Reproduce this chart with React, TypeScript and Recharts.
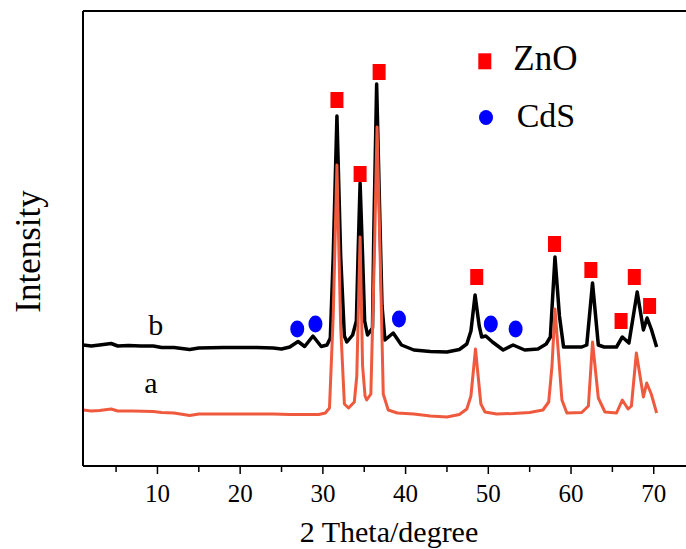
import React from 'react';
import {
  ComposedChart,
  Line,
  Scatter,
  XAxis,
  YAxis,
  ReferenceLine,
  ReferenceDot,
  Legend
} from 'recharts';

// sample b (CdS/ZnO) – drawn on top offset
const thetaB = [
  1.0, 2.0, 3.0, 4.4, 5.2, 6.5, 8.0, 9.5, 10.5, 12.0, 13.9, 15.0, 18.0, 22.0, 24.0, 25.0,
  26.0, 27.0, 27.8, 28.8, 29.8, 30.5, 30.9, 31.25, 31.7, 32.15, 32.6, 32.9, 33.6, 34.05,
  34.25, 34.5, 34.8, 35.05, 35.4, 36.0, 36.15, 36.5, 36.85, 37.15, 37.5, 38.5, 39.5, 41.0,
  43.0, 45.0, 46.5, 47.4, 47.9, 48.4, 48.9, 49.2, 49.7, 50.5, 51.8, 53.0, 54.4, 56.0,
  57.0, 57.5, 58.06, 58.6, 59.1, 61.3, 61.9, 62.6, 63.3, 64.0, 65.5, 66.2, 67.0, 68.0,
  68.75, 69.2, 69.7, 70.35
];
const intensityB = [
  121, 120, 121, 122.5, 120, 120.5, 120, 120, 118.5, 118.5, 116.5, 118, 118.5, 118.5, 118, 117,
  119, 124.5, 119.5, 130, 119.5, 121, 128, 210, 350, 210, 130, 124, 131, 145,
  210, 283, 210, 145, 131, 138, 230, 382, 260, 160, 126, 133, 121, 116,
  114.5, 114, 116.5, 122, 135, 171, 140, 129, 130, 124, 116, 121, 116, 117,
  122, 129, 209, 150, 119, 119, 121, 183, 121, 119, 119, 129, 123, 174,
  136, 148, 137, 119
];

// sample a (ZnO)
const thetaA = [
  1.0, 2.0, 3.0, 4.4, 5.2, 7.0, 9.5, 10.5, 12.0, 13.9, 15.0, 18.0, 22.0, 24.0, 26.0,
  28.0, 29.5, 30.3, 30.8, 31.25, 31.7, 32.15, 32.6, 33.1, 33.8, 34.1, 34.5, 34.8, 35.1,
  35.3, 35.8, 36.25, 36.55, 36.9, 37.3, 37.9, 39.0, 41.0, 43.0, 45.0, 46.5, 47.4, 47.9,
  48.45, 49.1, 49.6, 51.0, 53.0, 55.0, 56.6, 57.3, 57.7, 58.06, 58.5, 58.9, 59.5, 61.3,
  62.1, 62.6, 63.3, 64.1, 65.5, 66.2, 66.9, 67.3, 67.9, 68.75, 69.15, 69.7, 70.35
];
const intensityA = [
  56, 55, 55.5, 57, 55, 55, 54.5, 53.5, 53, 50.5, 52, 52, 52, 52, 51.5,
  51.5, 51.5, 53, 58, 150, 301, 140, 62, 58, 64, 90, 229, 100, 70,
  66, 72, 220, 339, 220, 72, 56, 53, 52, 50, 49, 51.5, 57, 70,
  117, 62, 54, 52, 52.5, 53.5, 56, 64, 100, 157, 110, 66, 53, 53.5,
  60, 124, 68, 54, 53, 66, 57, 60, 113, 69, 83, 72, 53
];

// phase markers
const znoTheta = [31.7, 34.5, 36.8, 48.6, 58.0, 62.4, 66.05, 67.65, 69.5];
const znoY = [366, 292, 394, 189, 222, 196, 145, 189, 160];
const cdsTheta = [26.9, 29.1, 39.2, 50.3, 53.3];
const cdsY = [137, 142, 147, 142, 137];

const xTicks = [5, 10, 15, 20, 25, 30, 35, 40, 45, 50, 55, 60, 65, 70];

const serif = '"Liberation Serif", "Times New Roman", serif';

const dataA = thetaA.map((t, i) => ({ theta: t, a: intensityA[i] }));
const dataB = thetaB.map((t, i) => ({ theta: t, b: intensityB[i] }));
const znoData = znoTheta.map((t, i) => ({ theta: t, y: znoY[i] }));
const cdsData = cdsTheta.map((t, i) => ({ theta: t, y: cdsY[i] }));

const XTick = ({ x, y, payload }: any) => {
  const major = payload.value % 10 === 0;
  return (
    <g>
      <line x1={x} x2={x} y1={y} y2={y + (major ? 8 : 6)} stroke="#000" strokeWidth={1.5} />
      {major && (
        <text x={x} y={y + 36} textAnchor="middle" fontSize={25} fontFamily={serif} fill="#000">
          {payload.value}
        </text>
      )}
    </g>
  );
};

const Square = (props: any) => (
  <rect x={props.cx - 6.5} y={props.cy - 8} width={13} height={16} fill="#ff0000" />
);

const Dot = (props: any) => <ellipse cx={props.cx} cy={props.cy} rx={7} ry={8.5} fill="#0000ff" />;

const LegendBox = () => (
  <svg width={130} height={100} style={{ display: 'block' }}>
    <rect x={18.3} y={18.3} width={13} height={16} fill="#ff0000" />
    <text x={53.3} y={35} fontSize={35} fontFamily={serif} fill="#000">ZnO</text>
    <ellipse cx={26} cy={82.5} rx={7} ry={7.5} fill="#0000ff" />
    <text x={56.7} y={91.7} fontSize={34} fontFamily={serif} fill="#000">CdS</text>
  </svg>
);

const YTitle = () => (
  <text
    x={40}
    y={251.5}
    transform="rotate(-90, 40, 251.5)"
    textAnchor="middle"
    fontSize={35}
    fontFamily={serif}
    fill="#000"
  >
    Intensity
  </text>
);

const XTitle = () => (
  <text x={389} y={542} textAnchor="middle" fontSize={30} fontFamily={serif} fill="#000">
    2 Theta/degree
  </text>
);

export default function App() {
  return (
    <div style={{ position: 'absolute', left: 0, top: 0, width: 686, height: 549, background: '#fff' }}>
      <ComposedChart
        width={686}
        height={549}
        margin={{ top: 11, right: 0, left: 0, bottom: 0 }}
        style={{ fontFamily: serif }}
      >
        <XAxis
          dataKey="theta"
          type="number"
          domain={[1, 73.9]}
          ticks={xTicks}
          interval={0}
          height={83}
          tickSize={0}
          tickMargin={0}
          tickLine={false}
          tick={<XTick />}
          axisLine={{ stroke: '#000', strokeWidth: 2 }}
          label={<XTitle />}
          allowDataOverflow
        />
        <YAxis
          type="number"
          domain={[0, 455]}
          width={83}
          tick={false}
          tickLine={false}
          axisLine={{ stroke: '#000', strokeWidth: 2 }}
          label={<YTitle />}
          allowDataOverflow
        />
        <ReferenceLine y={455} stroke="#000" strokeWidth={2} ifOverflow="visible" />
        <Legend
          layout="vertical"
          align="center"
          verticalAlign="middle"
          content={<LegendBox />}
          wrapperStyle={{ position: 'absolute', left: 460, top: 35, width: 130 }}
        />
        <Line
          data={dataB}
          dataKey="b"
          type="linear"
          stroke="#000"
          strokeWidth={3.5}
          strokeLinejoin="round"
          dot={false}
          legendType="none"
          isAnimationActive={false}
        />
        <Line
          data={dataA}
          dataKey="a"
          type="linear"
          stroke="#ef5a3e"
          strokeWidth={3}
          strokeLinejoin="round"
          dot={false}
          legendType="none"
          isAnimationActive={false}
        />
        <Scatter name="ZnO" data={znoData} dataKey="y" shape={<Square />} isAnimationActive={false} />
        <Scatter name="CdS" data={cdsData} dataKey="y" shape={<Dot />} isAnimationActive={false} />
        <ReferenceDot
          x={9.8}
          y={141.7}
          r={0}
          ifOverflow="visible"
          label={{ value: 'b', position: 'center', fontSize: 30, fontFamily: serif, fill: '#000' }}
        />
        <ReferenceDot
          x={9.2}
          y={83.4}
          r={0}
          ifOverflow="visible"
          label={{ value: 'a', position: 'center', fontSize: 30, fontFamily: serif, fill: '#000' }}
        />
      </ComposedChart>
    </div>
  );
}
